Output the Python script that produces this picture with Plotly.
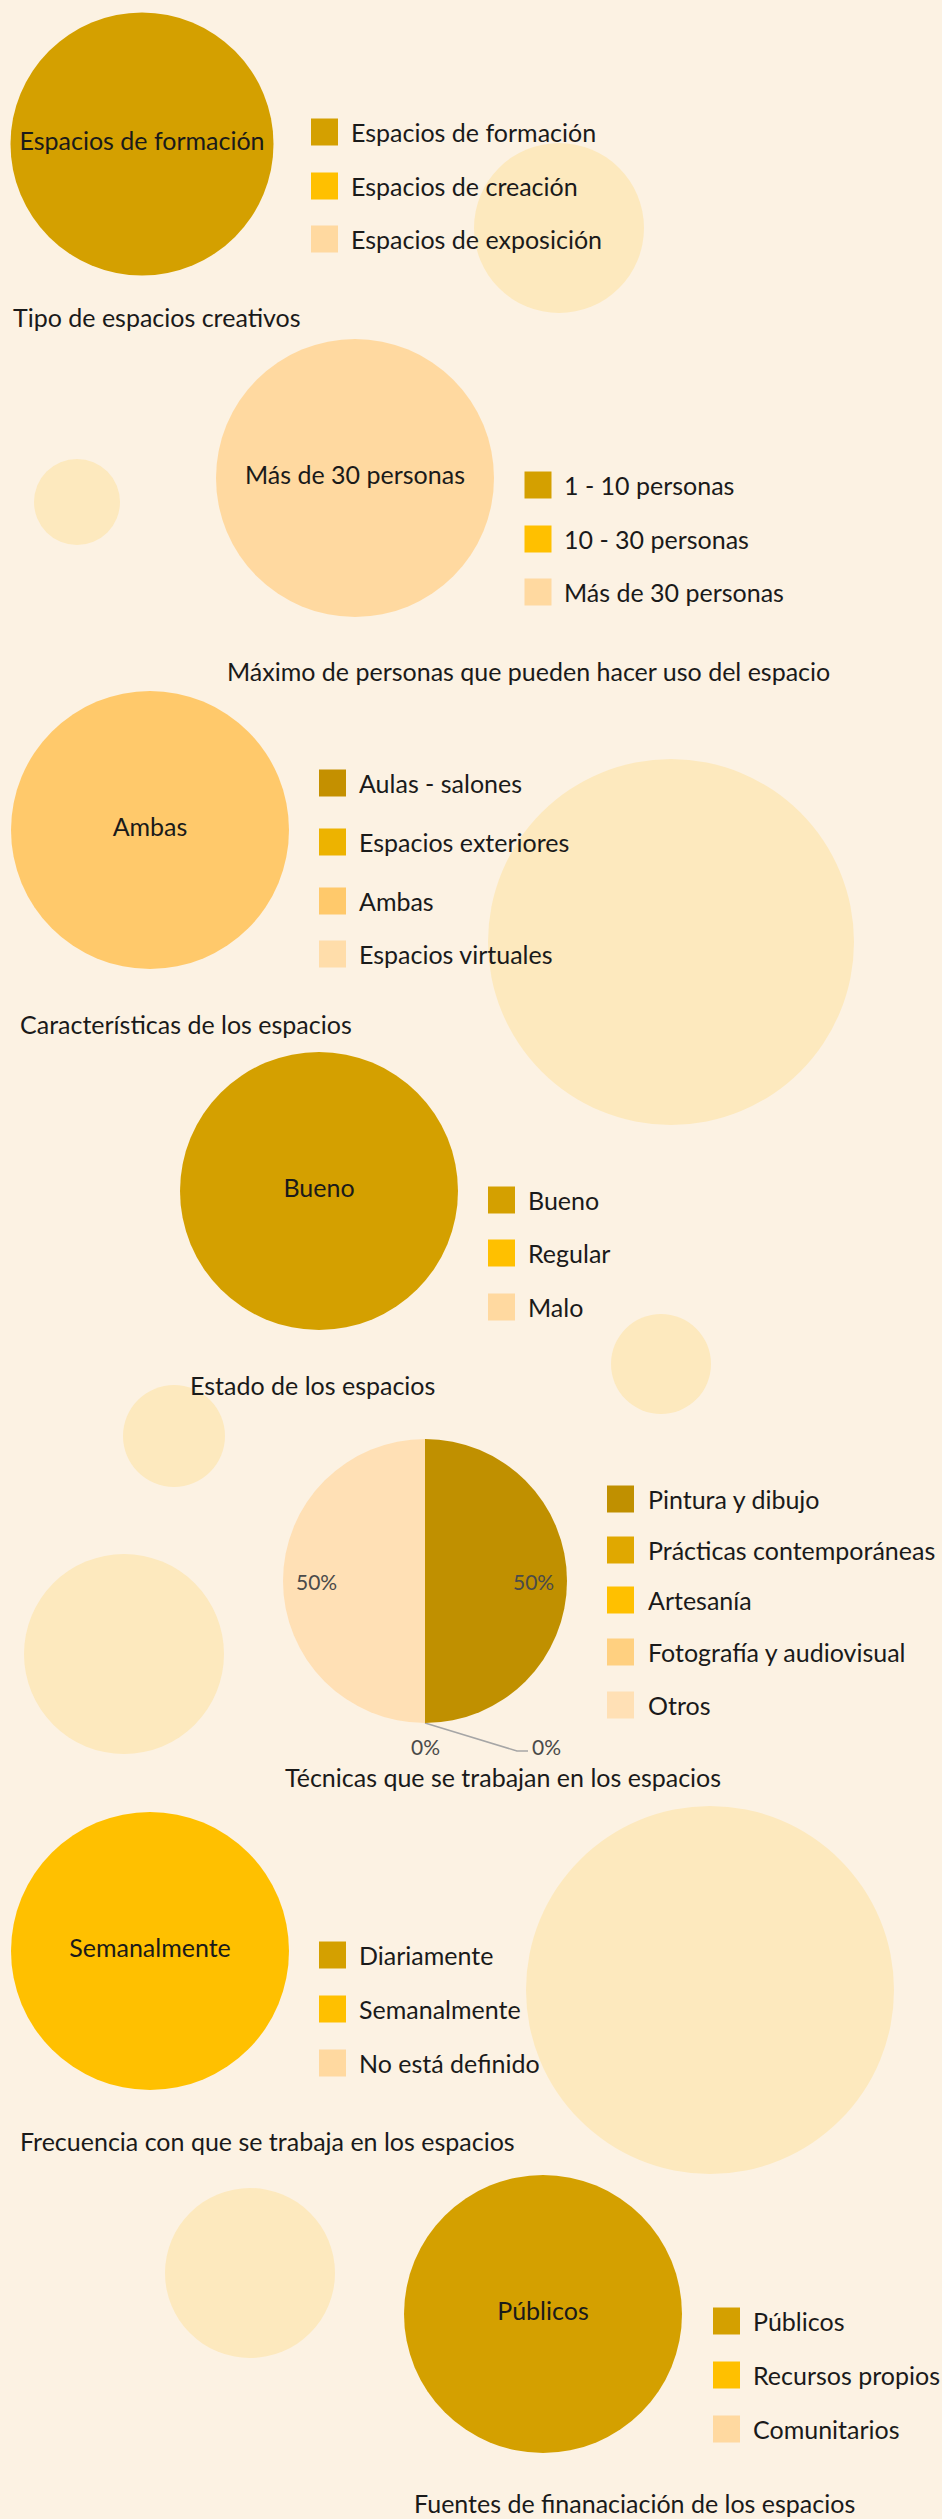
import math
import plotly.graph_objects as go

# ---------------- datos ----------------
tipo_labels = ["Espacios de formación", "Espacios de creación", "Espacios de exposición"]
tipo_values = [100, 0, 0]
tipo_colors = ["#D4A000", "#FFC000", "#FFD9A0"]

personas_labels = ["1 - 10 personas", "10 - 30 personas", "Más de 30 personas"]
personas_values = [0, 0, 100]
personas_colors = ["#D4A000", "#FFC000", "#FFD9A0"]

caract_labels = ["Aulas - salones", "Espacios exteriores", "Ambas", "Espacios virtuales"]
caract_values = [0, 0, 100, 0]
caract_colors = ["#C49000", "#EDB300", "#FFC96B", "#FFDDAA"]

estado_labels = ["Bueno", "Regular", "Malo"]
estado_values = [100, 0, 0]
estado_colors = ["#D4A000", "#FFC000", "#FFD9A0"]

tecnicas_labels = ["Pintura y dibujo", "Prácticas contemporáneas", "Artesanía",
                   "Fotografía y audiovisual", "Otros"]
tecnicas_values = [50, 0, 0, 0, 50]
tecnicas_colors = ["#C09000", "#E0A800", "#FFC000", "#FFD080", "#FFE0B5"]

frecuencia_labels = ["Diariamente", "Semanalmente", "No está definido"]
frecuencia_values = [0, 100, 0]
frecuencia_colors = ["#D4A000", "#FFC000", "#FFD9A0"]

fuentes_labels = ["Públicos", "Recursos propios", "Comunitarios"]
fuentes_values = [100, 0, 0]
fuentes_colors = ["#D4A000", "#FFC000", "#FFD9A0"]

titulos = ["Tipo de espacios creativos",
           "Máximo de personas que pueden hacer uso del espacio",
           "Características de los espacios",
           "Estado de los espacios",
           "Técnicas que se trabajan en los espacios",
           "Frecuencia con que se trabaja en los espacios",
           "Fuentes de finanaciación de los espacios"]

# ---------------- estilo / posiciones (px) ----------------
W, H = 942, 2519
BG = "#FCF2E3"
PALE = "#FDE9BE"
FONT = "Lato, Open Sans, sans-serif"
FS = 25
INK = "#1a1a1a"
PCT = "#4a4a4a"

bubble_sections = [
    # labels, values, colors, centro burbuja, diametro, x leyenda, y leyenda, titulo
    (tipo_labels, tipo_values, tipo_colors, (142, 144), 263, 324.5, [132, 186, 239], (11, 317)),
    (personas_labels, personas_values, personas_colors, (355, 478), 278, 538, [485, 539, 592], (225, 671)),
    (caract_labels, caract_values, caract_colors, (150, 830), 278, 332.5, [783, 842, 901, 954], (18, 1024)),
    (estado_labels, estado_values, estado_colors, (319, 1191), 278, 501.5, [1200, 1253, 1307], (188, 1385)),
    (frecuencia_labels, frecuencia_values, frecuencia_colors, (150, 1951), 278, 332.5, [1955, 2009, 2063], (18, 2141)),
    (fuentes_labels, fuentes_values, fuentes_colors, (543, 2314), 278, 726.5, [2321, 2375, 2429], (412, 2503)),
]
titulo_idx = [0, 1, 2, 3, 5, 6]

pie_center, pie_r = (425, 1581), 142
pie_legend_x, pie_legend_y = 620.5, [1499, 1550, 1600, 1652, 1705]
pie_title = (283, 1777)

# circulos decorativos de fondo (cx, cy, r)
deco = [(559, 228, 85), (77, 502, 43), (671, 942, 183), (661, 1364, 50),
        (174, 1436, 51), (124, 1654, 100), (710, 1990, 184), (250, 2273, 85)]

fig = go.Figure()
annotations = []

for (labels, values, colors, c, d, lx, ly, tpos), ti in zip(bubble_sections, titulo_idx):
    top = max(values)
    i = values.index(top)
    fig.add_trace(go.Scatter(
        x=[c[0]], y=[c[1]], mode="markers+text",
        marker=dict(size=[top], sizemode="area", sizeref=2 * top / d ** 2,
                    color=colors[i], opacity=1, line=dict(width=0)),
        text=[labels[i]], textposition="middle center",
        textfont=dict(family=FONT, size=FS, color=INK),
        hoverinfo="skip", showlegend=False))
    fig.add_trace(go.Scatter(
        x=[lx] * len(labels), y=ly, mode="markers",
        marker=dict(symbol="square", size=27, color=colors, line=dict(width=0)),
        hoverinfo="skip", showlegend=False))
    for lab, yy in zip(labels, ly):
        annotations.append(dict(x=lx + 24, y=yy, xref="x", yref="y", text=lab,
                                showarrow=False, xanchor="left", yanchor="middle",
                                font=dict(family=FONT, size=FS, color=INK)))
    annotations.append(dict(x=tpos[0], y=tpos[1], xref="x", yref="y", text=titulos[ti],
                            showarrow=False, xanchor="left", yanchor="middle",
                            font=dict(family=FONT, size=FS, color=INK)))

# grafico de torta
fig.add_trace(go.Pie(
    labels=tecnicas_labels, values=tecnicas_values, sort=False,
    direction="clockwise", rotation=0,
    marker=dict(colors=tecnicas_colors, line=dict(width=0)),
    textinfo="none",
    domain=dict(x=[(pie_center[0] - pie_r) / W, (pie_center[0] + pie_r) / W],
                y=[1 - (pie_center[1] + pie_r) / H, 1 - (pie_center[1] - pie_r) / H]),
    hoverinfo="skip", showlegend=False))

# porcentajes dentro de las porciones, cerca del borde
total = sum(tecnicas_values)
acc = 0
for v in tecnicas_values:
    if v > 0:
        mid = (acc + v / 2) / total * 2 * math.pi
        annotations.append(dict(x=pie_center[0] + 0.765 * pie_r * math.sin(mid),
                                y=pie_center[1] - 0.765 * pie_r * math.cos(mid),
                                xref="x", yref="y", text=f"{round(100 * v / total)}%",
                                showarrow=False, font=dict(family=FONT, size=21, color=PCT)))
    acc += v

fig.add_trace(go.Scatter(
    x=[pie_legend_x] * len(tecnicas_labels), y=pie_legend_y, mode="markers",
    marker=dict(symbol="square", size=27, color=tecnicas_colors, line=dict(width=0)),
    hoverinfo="skip", showlegend=False))
for lab, yy in zip(tecnicas_labels, pie_legend_y):
    annotations.append(dict(x=pie_legend_x + 25, y=yy, xref="x", yref="y", text=lab,
                            showarrow=False, xanchor="left", yanchor="middle",
                            font=dict(family=FONT, size=FS, color=INK)))
annotations.append(dict(x=pie_title[0], y=pie_title[1], xref="x", yref="y", text=titulos[4],
                        showarrow=False, xanchor="left", yanchor="middle",
                        font=dict(family=FONT, size=FS, color=INK)))

# etiquetas de las porciones en 0 % (con linea guia)
bottom = pie_center[1] + pie_r
fig.add_trace(go.Scatter(
    x=[pie_center[0], pie_center[0] + 92, pie_center[0] + 103],
    y=[bottom, bottom + 28, bottom + 28], mode="lines",
    line=dict(color="#A6A6A6", width=1.5), hoverinfo="skip", showlegend=False))
annotations.append(dict(x=pie_center[0], y=bottom + 23, xref="x", yref="y",
                        text=f"{tecnicas_values[1]}%", showarrow=False,
                        font=dict(family=FONT, size=21, color=PCT)))
annotations.append(dict(x=pie_center[0] + 105, y=bottom + 23, xref="x", yref="y",
                        text=f"{tecnicas_values[3]}%", showarrow=False, xanchor="left",
                        font=dict(family=FONT, size=21, color=PCT)))

shapes = [dict(type="circle", xref="x", yref="y", x0=cx - r, x1=cx + r, y0=cy - r, y1=cy + r,
               fillcolor=PALE, line=dict(width=0), layer="below") for cx, cy, r in deco]

fig.update_layout(
    width=W, height=H, margin=dict(l=0, r=0, t=0, b=0),
    paper_bgcolor=BG, plot_bgcolor=BG,
    xaxis=dict(range=[0, W], visible=False, fixedrange=True),
    yaxis=dict(range=[H, 0], visible=False, fixedrange=True),
    shapes=shapes, annotations=annotations, showlegend=False,
)

fig.write_html("out.html", config={"displayModeBar": False},
               post_script="document.body.style.margin='0';"
                           "document.body.style.background='" + BG + "';")
